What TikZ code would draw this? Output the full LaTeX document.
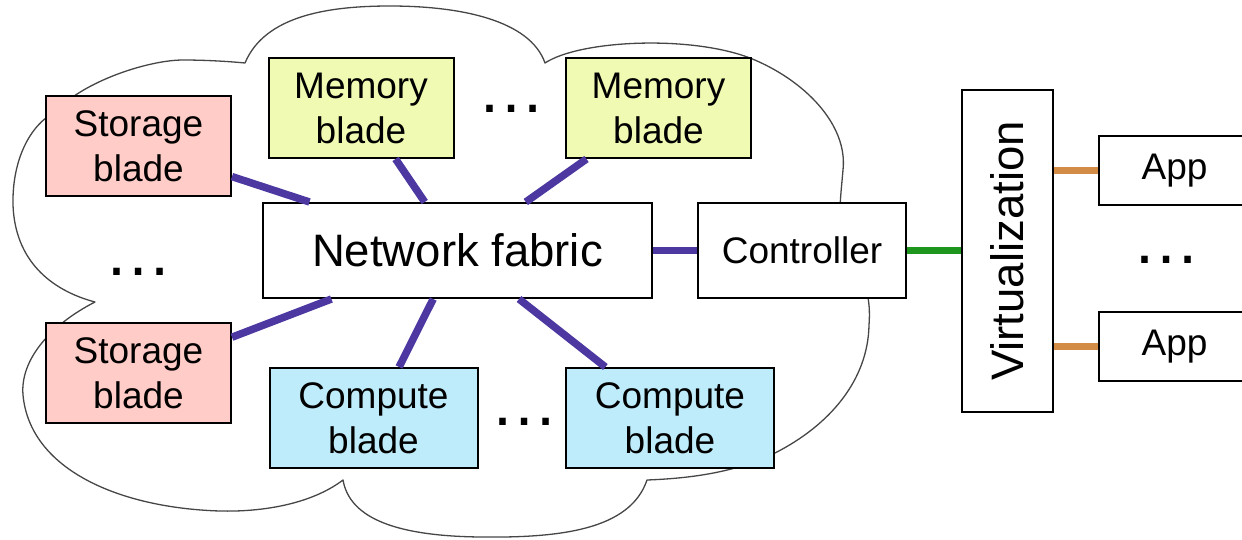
\documentclass[tikz,border=0pt]{standalone}
\usepackage{fontspec}
\setmainfont{Liberation Sans}
\newcommand\bladefont{\fontsize{37}{45}\selectfont}
\newcommand\bigfont{\fontsize{45.5}{50}\selectfont}
\newcommand\dotsfont{\fontsize{68}{68}\selectfont}
\definecolor{storagefill}{RGB}{255,204,200}
\definecolor{memoryfill}{RGB}{240,250,178}
\definecolor{computefill}{RGB}{190,236,250}
\definecolor{busline}{RGB}{76,56,160}
\definecolor{ctlline}{RGB}{30,150,30}
\definecolor{appline}{RGB}{210,140,70}
\definecolor{cloudline}{RGB}{70,70,70}
\begin{document}
\begin{tikzpicture}[x=1pt,y=-1pt,
  box/.style={draw=black,line width=2pt,inner sep=0pt,align=center,font=\bladefont},
  blade/.style={box,minimum width=185pt,minimum height=100pt},
  storage/.style={blade,fill=storagefill},
  memory/.style={blade,fill=memoryfill},
  compute/.style={blade,fill=computefill,minimum width=208pt},
  plainbox/.style={box,fill=white},
  ellip/.style={inner sep=0pt,font=\dotsfont},
  bus/.style={draw=busline,line width=7.5pt},
  ctlbus/.style={draw=ctlline,line width=7.5pt},
  appbus/.style={draw=appline,line width=7.5pt},
  cloud/.style={draw=cloudline,line width=1.3pt,line join=round}]
\useasboundingbox (0,0) rectangle (1242,539);
\clip (0,0) rectangle (1242,539);

% cloud outline behind the blades
\draw[cloud] (245,63)
  .. controls (265,15) and (330,6) .. (390,6)
  .. controls (460,6) and (530,20) .. (545,63)
  .. controls (580,40) and (690,35) .. (750,58)
  .. controls (805,80) and (848,125) .. (843,170)
  .. controls (840,205) and (835,235) .. (852,262)
  .. controls (866,280) and (871,300) .. (869,325)
  .. controls (868,380) and (830,425) .. (775,453)
  .. controls (740,470) and (700,478) .. (647,480)
  .. controls (630,530) and (560,538) .. (480,537)
  .. controls (400,536) and (350,520) .. (343,480)
  .. controls (310,505) and (260,512) .. (220,511)
  .. controls (120,508) and (30,470) .. (23,395)
  .. controls (20,360) and (50,325) .. (95,302)
  .. controls (50,290) and (15,260) .. (13,205)
  .. controls (12,160) and (30,125) .. (55,112)
  .. controls (85,80) and (150,60) .. (183,60)
  .. controls (210,60) and (235,62) .. (245,63)
  -- cycle;

% blades
\node[storage] (sb1) at (138.5,146) {Storage\\blade};
\node[storage] (sb2) at (138.5,373) {Storage\\blade};
\node[memory]  (mb1) at (361,108) {Memory\\blade};
\node[memory]  (mb2) at (658.5,108) {Memory\\blade};
\node[compute] (cb1) at (373.5,418) {Compute\\blade};
\node[compute] (cb2) at (670,418) {Compute\\blade};

% fabric, controller, virtualization layer, applications
\node[plainbox,font=\bigfont,minimum width=389pt,minimum height=95pt] (nf) at (457.5,250.5) {Network fabric};
\node[plainbox,minimum width=208pt,minimum height=95pt] (ctl) at (802,250.5) {Controller};
\node[plainbox,font=\bigfont,minimum width=322pt,minimum height=91pt,rotate=90] (virt) at (1007.5,251) {Virtualization};
\node[plainbox,minimum width=151pt,minimum height=69pt] (app1) at (1174.5,170.5) {App};
\node[plainbox,minimum width=151pt,minimum height=69pt] (app2) at (1174.5,346.5) {App};

% ellipses for repeated elements
\node[ellip] (dm) at (511,109) {…};
\node[ellip] (ds) at (138,272) {…};
\node[ellip] (dc) at (524,422) {…};
\node[ellip] (da) at (1166,260) {…};

% links to the fabric
\draw[bus] (sb1) -- (nf);
\draw[bus] (sb2) -- (nf);
\draw[bus] (mb1) -- (nf);
\draw[bus] (mb2) -- (nf);
\draw[bus] (cb1) -- (nf);
\draw[bus] (cb2) -- (nf);
\draw[bus] (nf) -- (ctl);

% controller to virtualization, virtualization to apps
\draw[ctlbus] (ctl.east) -- (ctl.east -| virt.north);
\draw[appbus] (app1.west -| virt.south) -- (app1.west);
\draw[appbus] (app2.west -| virt.south) -- (app2.west);
\end{tikzpicture}
\end{document}
